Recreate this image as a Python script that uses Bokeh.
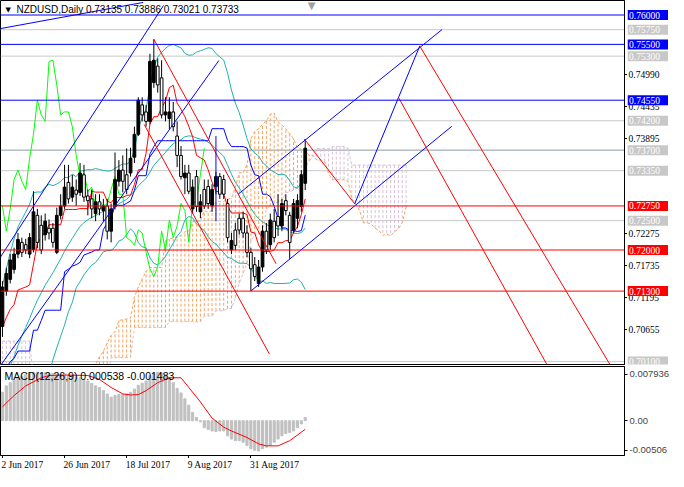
import numpy as np
from bokeh.plotting import figure
from bokeh.layouts import column, row
from bokeh.models import Range1d, FixedTicker, Label, Span, ColumnDataSource
from bokeh.embed import file_html
from bokeh.resources import INLINE

# ---------------- data ----------------
symbol = "NZDUSD,Daily"

# bars before the visible window (28 Apr - 1 Jun 2017), only feed the indicators
pre_high = [0.6890, 0.6905, 0.6925, 0.6935, 0.6925, 0.6940, 0.6955, 0.6945, 0.6905, 0.6890,
            0.6895, 0.6925, 0.6935, 0.6950, 0.6945, 0.6965, 0.7000, 0.7025, 0.7030, 0.7040,
            0.7055, 0.7060, 0.7075, 0.7100, 0.7105]
pre_low = [0.6850, 0.6860, 0.6875, 0.6885, 0.6870, 0.6880, 0.6905, 0.6880, 0.6860, 0.6827,
           0.6860, 0.6895, 0.6900, 0.6905, 0.6900, 0.6895, 0.6981, 0.6990, 0.7000, 0.7005,
           0.7010, 0.7035, 0.7040, 0.7045, 0.7060]
pre_close = [0.6870, 0.6890, 0.6905, 0.6915, 0.6895, 0.6920, 0.6935, 0.6890, 0.6875, 0.6850,
             0.6875, 0.6905, 0.6920, 0.6935, 0.6915, 0.6950, 0.6990, 0.7015, 0.7005, 0.7020,
             0.7040, 0.7045, 0.7060, 0.7095, 0.7085]

# visible daily bars, 2 Jun 2017 .. 20 Sep 2017
opens = [0.7070, 0.7130, 0.7150, 0.7167, 0.7193, 0.7213, 0.7209, 0.7193, 0.7201, 0.7259,
         0.7242, 0.7226, 0.7237, 0.7237, 0.7196, 0.7259, 0.7275, 0.7315, 0.7290, 0.7302,
         0.7298, 0.7328, 0.7292, 0.7287, 0.7262, 0.7282, 0.7267, 0.7275, 0.7232, 0.7274,
         0.7317, 0.7336, 0.7328, 0.7331, 0.7358, 0.7397, 0.7447, 0.7435, 0.7419, 0.7485,
         0.7513, 0.7493, 0.7430, 0.7424, 0.7435, 0.7394, 0.7361, 0.7323, 0.7331, 0.7270,
         0.7325, 0.7265, 0.7303, 0.7308, 0.7275, 0.7308, 0.7325, 0.7320, 0.7279, 0.7200,
         0.7234, 0.7254, 0.7254, 0.7229, 0.7196, 0.7175, 0.7143, 0.7171, 0.7232, 0.7209,
         0.7249, 0.7257, 0.7241, 0.7284, 0.7259, 0.7234, 0.7254, 0.7274, 0.73135]
highs = [0.7147, 0.7170, 0.7193, 0.7204, 0.7229, 0.7221, 0.7219, 0.7229, 0.7300, 0.7270,
         0.7259, 0.7262, 0.7252, 0.7246, 0.7272, 0.7295, 0.7345, 0.7345, 0.7328, 0.7320,
         0.7348, 0.7345, 0.7303, 0.7303, 0.7295, 0.7295, 0.7287, 0.7287, 0.7279, 0.7366,
         0.7353, 0.7361, 0.7373, 0.7374, 0.7410, 0.7460, 0.7460, 0.7447, 0.7534, 0.7559,
         0.7526, 0.7523, 0.7460, 0.7460, 0.7452, 0.7419, 0.7377, 0.7345, 0.7345, 0.7320,
         0.7336, 0.7295, 0.7320, 0.7320, 0.7312, 0.7333, 0.7331, 0.7328, 0.7287, 0.7229,
         0.7246, 0.7262, 0.7265, 0.7242, 0.7204, 0.7188, 0.7183, 0.7242, 0.7246, 0.7262,
         0.7270, 0.7295, 0.7287, 0.7295, 0.7265, 0.7287, 0.7295, 0.7336, 0.73886]
lows = [0.7052, 0.7122, 0.7143, 0.7160, 0.7186, 0.7188, 0.7193, 0.7186, 0.7196, 0.7203,
        0.7193, 0.7216, 0.7218, 0.7204, 0.7193, 0.7252, 0.7270, 0.7279, 0.7282, 0.7275,
        0.7292, 0.7282, 0.7259, 0.7254, 0.7249, 0.7259, 0.7249, 0.7218, 0.7213, 0.7269,
        0.7308, 0.7298, 0.7295, 0.7325, 0.7348, 0.7394, 0.7419, 0.7410, 0.7414, 0.7476,
        0.7468, 0.7424, 0.7419, 0.7406, 0.7402, 0.7341, 0.7320, 0.7295, 0.7295, 0.7262,
        0.7265, 0.7254, 0.7270, 0.7270, 0.7265, 0.7295, 0.7287, 0.7287, 0.7213, 0.7193,
        0.7200, 0.7226, 0.7221, 0.7188, 0.7130, 0.7147, 0.7137, 0.7163, 0.7193, 0.7200,
        0.7213, 0.7224, 0.7232, 0.7259, 0.7185, 0.7229, 0.7237, 0.7265, 0.73021]
closes = [0.7137, 0.7160, 0.7183, 0.7193, 0.7218, 0.7196, 0.7200, 0.7221, 0.7265, 0.7213,
          0.7200, 0.7249, 0.7229, 0.7213, 0.7259, 0.7275, 0.7307, 0.7287, 0.7307, 0.7295,
          0.7331, 0.7290, 0.7284, 0.7270, 0.7282, 0.7270, 0.7275, 0.7232, 0.7270, 0.7320,
          0.7336, 0.7317, 0.7303, 0.7356, 0.7397, 0.7455, 0.7430, 0.7419, 0.7521, 0.7523,
          0.7481, 0.7430, 0.7435, 0.7435, 0.7410, 0.7361, 0.7325, 0.7331, 0.7300, 0.7307,
          0.7274, 0.7282, 0.7275, 0.7279, 0.7303, 0.7325, 0.7295, 0.7295, 0.7221, 0.7216,
          0.7208, 0.7234, 0.7229, 0.7196, 0.7168, 0.7155, 0.7171, 0.7232, 0.7200, 0.7251,
          0.7221, 0.7241, 0.7279, 0.7267, 0.7213, 0.7279, 0.7284, 0.7328, 0.73733]

# Senkou spans where their source bars lie before the data above
senkou_a_early = [0.6990, 0.6990, 0.6990, 0.6990, 0.6990, 0.6990, 0.6990, 0.6990, 0.6990, 0.6990,
                  0.6990, 0.6990, 0.6990, 0.6990, 0.6990, 0.6990, 0.6990, 0.6990, 0.6990, 0.6990,
                  0.6990, 0.6990, 0.6990, 0.6990, 0.7005, 0.7018]
senkou_b_early = [0.7045, 0.7045, 0.7045, 0.7045, 0.7045, 0.7045, 0.7045, 0.7045,
                  0.6980, 0.6980, 0.6980, 0.6980, 0.6980, 0.6980, 0.6980, 0.6980, 0.6980, 0.6980,
                  0.6980, 0.6980, 0.6980, 0.6980, 0.6980, 0.6980, 0.6980, 0.6980, 0.6980, 0.6980,
                  0.7017, 0.7017, 0.7017, 0.7017, 0.7017, 0.7017,
                  0.7068, 0.7068, 0.7068, 0.7068, 0.7068, 0.7068, 0.7068, 0.7068, 0.7068,
                  0.7078, 0.7078, 0.7078, 0.7078, 0.7078, 0.7078, 0.7078, 0.7078, 0.7078]

# MACD(12,26,9) main (histogram) per bar, and signal read at a few bars
macd_main = [0.00485, 0.00595, 0.00650, 0.00694, 0.00733, 0.00761, 0.00788, 0.00816, 0.00827, 0.00832,
             0.00816, 0.00816, 0.00805, 0.00805, 0.00788, 0.00788, 0.00799, 0.00772, 0.00761, 0.00750,
             0.00733, 0.00705, 0.00678, 0.00639, 0.00595, 0.00568, 0.00513, 0.00457, 0.00402, 0.00430,
             0.00446, 0.00446, 0.00457, 0.00485, 0.00540, 0.00606, 0.00639, 0.00678, 0.00772, 0.00816,
             0.00827, 0.00816, 0.00788, 0.00733, 0.00650, 0.00551, 0.00474, 0.00375, 0.00265, 0.00143,
             0.00055, -0.00020, -0.00121, -0.00149, -0.00176, -0.00187, -0.00176, -0.00176, -0.00259, -0.00314,
             -0.00342, -0.00342, -0.00369, -0.00424, -0.00479, -0.00507, -0.00518, -0.00479, -0.00452, -0.00424,
             -0.00369, -0.00314, -0.00259, -0.00220, -0.00204, -0.00176, -0.00121, -0.00055, 0.000538]
signal_idx = [0, 3, 6, 10, 12, 16, 22, 25, 28, 31, 33, 35, 37, 40, 43, 46, 48, 51, 54, 57, 59, 63, 66, 68, 71, 74, 78]
signal_val = [0.00237, 0.00430, 0.00595, 0.00733, 0.00772, 0.00780, 0.00772, 0.00705, 0.00568, 0.00457,
              0.00440, 0.00446, 0.00513, 0.00650, 0.00733, 0.00733, 0.00568, 0.00320, 0.00044, -0.00110,
              -0.00176, -0.00287, -0.00397, -0.00430, -0.00430, -0.00342, -0.001483]

# horizontal levels
level_values = [0.7600, 0.7550, 0.7455, 0.7275, 0.7200, 0.7130,
                0.7575, 0.7530, 0.7420, 0.7370, 0.7335, 0.7250, 0.7010]
level_colors = ["#0000FF", "#0000FF", "#0000FF", "#FF0000", "#FF0000", "#FF0000",
                "#C8C8C8", "#C8C8C8", "#C8C8C8", "#8C99A6", "#C8C8C8", "#C8C8C8", "#C8C8C8"]
tag_colors = ["#0000FF", "#0000FF", "#0000FF", "#FF0000", "#FF0000", "#FF0000",
              "#C8C8C8", "#C8C8C8", "#C8C8C8", "#C8C8C8", "#C8C8C8", "#C8C8C8", "#C8C8C8"]

# trend lines (bar index, price)
trend_x0 = [-0.5, -0.5, -0.5, 39.0, 36.5, 77.75, 60.75, 64.0, 90.75, 102.0, 107.5, 55.0]
trend_y0 = [0.75769, 0.71880, 0.70034, 0.75588, 0.74138, 0.73891, 0.72951, 0.71303, 0.72786, 0.74599, 0.75473, 0.73940]
trend_x1 = [36.25, 41.5, 55.75, 70.5, 68.75, 90.75, 113.25, 115.75, 107.5, 140.25, 156.5, 55.0]
trend_y1 = [0.76214, 0.76164, 0.75225, 0.71765, 0.70232, 0.72786, 0.75753, 0.74105, 0.75473, 0.70051, 0.70051, 0.72490]
trend_colors = ["#0000FF", "#0000FF", "#0000FF", "#FF0000", "#FF0000", "#FF0000",
                "#0000FF", "#0000FF", "#0000FF", "#FF0000", "#FF0000", "#0000FF"]

price_ticks = [0.74990, 0.74435, 0.73895, 0.72275, 0.71735, 0.71195, 0.70655]
macd_ticks = [0.007936, 0.0, -0.005063]
macd_tick_text = ["0.007936", "0.00", "-0.00506"]
date_idx = [0, 16, 32, 48, 64]
date_text = ["2 Jun 2017", "26 Jun 2017", "18 Jul 2017", "9 Aug 2017", "31 Aug 2017"]

# ---------------- indicators ----------------
FONT = "Liberation Sans"
n = len(closes)
pn = len(pre_close)
H = np.array(pre_high + highs)
L = np.array(pre_low + lows)
C = np.array(pre_close + closes)
idx = np.arange(n)


def midline(period, i):
    a = pn + i - period + 1
    b = pn + i + 1
    return (H[a:b].max() + L[a:b].min()) / 2


tenkan = np.array([midline(9, i) for i in idx])
kijun = np.array([midline(26, i) for i in idx])
bb_mid = np.array([C[pn + i - 19:pn + i + 1].mean() for i in idx])
bb_sd = np.array([C[pn + i - 19:pn + i + 1].std() for i in idx])
span_a = np.concatenate([senkou_a_early, (tenkan + kijun) / 2])
span_b = np.concatenate([senkou_b_early,
                         [midline(52, i - 26) for i in range(len(senkou_b_early), n + 26)]])
cloud_x = np.arange(len(span_a))
cloud_col = ["#F4A460" if a >= b else "#D8BFD8" for a, b in zip(span_a, span_b)]

FW = 624          # plot frame width
SW = 41           # price scale strip width
XR = Range1d(-0.5, 160.25)
YR = Range1d(0.70051, 0.76247)


def base_fig(**kw):
    f = figure(output_backend="svg", toolbar_location=None, background_fill_color="white",
               border_fill_color="white", min_border_left=0, min_border_top=0, **kw)
    f.grid.visible = False
    return f


# ---------------- main chart ----------------
p = base_fig(frame_width=FW, frame_height=364, x_range=XR, y_range=YR,
             x_axis_location=None, y_axis_location="right",
             min_border_bottom=2, min_border_right=0, outline_line_color="black")
ax = p.yaxis[0]
ax.ticker = FixedTicker(ticks=price_ticks)
ax.major_label_overrides = {t: "" for t in price_ticks}
ax.major_tick_out = 3
ax.major_tick_in = 0
ax.minor_tick_line_color = None
ax.major_label_standoff = 0
ax.axis_line_color = "black"

# cloud hatch (one dashed vertical per bar) and span borders
p.segment(x0=cloud_x, y0=span_b, x1=cloud_x, y1=span_a, line_color=cloud_col, line_width=1, line_dash="3 2")
p.line(cloud_x, span_a, line_color="#F4A460", line_width=1, line_dash="3 2")
p.line(cloud_x, span_b, line_color="#D8BFD8", line_width=1, line_dash="3 2")

for v, c in zip(level_values, level_colors):
    lvl = "underlay" if c in ("#C8C8C8", "#8C99A6") else "annotation"
    p.add_layout(Span(location=v, dimension="width", line_color=c, line_width=1, level=lvl))

# Bollinger bands
for band in (bb_mid + 2 * bb_sd, bb_mid, bb_mid - 2 * bb_sd):
    p.line(idx, band, line_color="#20B2AA", line_width=1)

# Ichimoku lines
p.line(idx[:n - 26], closes[26:], line_color="#00FF00", line_width=1)
p.line(idx, tenkan, line_color="#FF0000", line_width=1)
p.line(idx, kijun, line_color="#0000FF", line_width=1)

# candles
o = np.array(opens); c_ = np.array(closes)
src = ColumnDataSource(dict(x=idx, h=highs, l=lows, top=np.maximum(o, c_), bottom=np.minimum(o, c_),
                            fill=["black" if cc >= oo else "white" for oo, cc in zip(o, c_)]))
p.segment(x0="x", y0="l", x1="x", y1="h", source=src, line_color="black", line_width=1)
p.vbar(x="x", width=0.7, top="top", bottom="bottom", fill_color="fill", line_color="black",
       line_width=1, source=src)

# trend lines
p.segment(x0=trend_x0, y0=trend_y0, x1=trend_x1, y1=trend_y1, line_color=trend_colors, line_width=1)

# title
p.add_layout(Label(x=5, y=355, x_units="screen", y_units="screen", text="\u25BC",
                   text_font="DejaVu Sans", text_font_size="7px", text_color="black",
                   text_baseline="middle"))
p.add_layout(Label(x=16, y=355, x_units="screen", y_units="screen",
                   text=f"{symbol}  {opens[-1]:.5f} {highs[-1]:.5f} {lows[-1]:.5f} {closes[-1]:.5f}",
                   text_font=FONT, text_font_size="10px", text_color="black", text_baseline="middle"))
p.add_layout(Label(x=311, y=359, x_units="screen", y_units="screen", text="\u25BC",
                   text_font="DejaVu Sans", text_font_size="10px", text_color="#A0A0A0",
                   text_align="center", text_baseline="middle"))

# ---------------- price scale strip (labels + coloured level tags) ----------------
s = base_fig(frame_width=SW, frame_height=364, x_range=Range1d(0, SW), y_range=YR,
             x_axis_location=None, y_axis_location=None,
             min_border_bottom=2, min_border_right=0, outline_line_color=None)
s.text(x=[1] * len(price_ticks), y=price_ticks, text=[f"{v:.5f}" for v in price_ticks],
       text_font=FONT, text_font_size="9.5px", text_color="black", text_baseline="middle")
s.rect(x=SW / 2, y=level_values, width=SW, height=10, height_units="screen",
       fill_color=tag_colors, line_color=None)
s.text(x=[1.5] * len(level_values), y=level_values, text=[f"{v:.5f}" for v in level_values],
       text_font=FONT, text_font_size="9.5px", text_color="white", text_baseline="middle")

# ---------------- MACD panel ----------------
m = base_fig(frame_width=FW, frame_height=89, x_range=XR, y_range=Range1d(-0.00595, 0.00926),
             x_axis_location="below", y_axis_location="right",
             min_border_bottom=0, min_border_right=44, outline_line_color="black")
my = m.yaxis[0]
my.ticker = FixedTicker(ticks=macd_ticks)
my.major_label_overrides = {t: s_ for t, s_ in zip(macd_ticks, macd_tick_text)}
my.major_tick_out = 3
my.major_tick_in = 0
my.minor_tick_line_color = None
my.major_label_standoff = 2
my.major_label_text_font = FONT
my.major_label_text_font_size = "9.5px"
my.axis_line_color = "black"
mx = m.xaxis[0]
mx.ticker = FixedTicker(ticks=date_idx)
mx.major_label_overrides = {t: "" for t in date_idx}
mx.major_tick_out = 3
mx.major_tick_in = 0
mx.major_label_standoff = 0
mx.minor_tick_line_color = None
mx.axis_line_color = "black"

m.vbar(x=idx, width=0.55, top=macd_main, bottom=0, fill_color="#C0C0C0", line_color="#C0C0C0")
m.line(signal_idx, signal_val, line_color="#FF0000", line_width=1)
m.add_layout(Label(x=4, y=80, x_units="screen", y_units="screen",
                   text=f"MACD(12,26,9) {macd_main[-1]:.6f} {signal_val[-1]:.6f}",
                   text_font=FONT, text_font_size="10.5px", text_color="black", text_baseline="middle"))

# ---------------- date row ----------------
d = base_fig(frame_width=FW, frame_height=13, x_range=XR, y_range=Range1d(0, 1),
             x_axis_location=None, y_axis_location=None,
             min_border_bottom=0, min_border_right=44, outline_line_color=None)
d.text(x=date_idx, y=[0.5] * len(date_idx), text=date_text, x_offset=-1,
       text_font=FONT, text_font_size="9.5px", text_color="black", text_baseline="middle")

layout = column(row(p, s, spacing=0), m, d, spacing=0)
open("out.html", "w").write(file_html(layout, INLINE))
